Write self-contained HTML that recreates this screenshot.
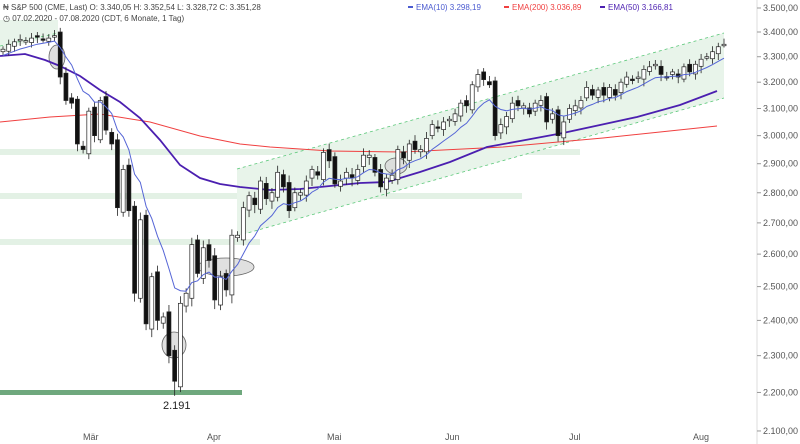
<!DOCTYPE html>
<html><head><meta charset="utf-8"><style>
body{margin:0;background:#fff;font-family:"Liberation Sans",sans-serif}
svg{display:block}
text{font-family:"Liberation Sans",sans-serif}
</style></head><body>
<svg id="s" width="800" height="444" viewBox="0 0 800 444">
<rect width="800" height="444" fill="#fff"/>
<rect x="0" y="149" width="580" height="6" fill="#e3f1e5"/>
<rect x="0" y="193" width="522" height="6" fill="#e3f1e5"/>
<rect x="0" y="239" width="260" height="6" fill="#e3f1e5"/>
<polygon points="0,20 58,20 58,35 0,50" fill="#e8f4ea"/>
<polygon points="237,169 724,33 724,98 237,236" fill="#e8f4ea"/>
<line x1="237" y1="169" x2="724" y2="33" stroke="#5cc87a" stroke-dasharray="3,3" stroke-width="0.8"/>
<line x1="237" y1="236" x2="724" y2="98" stroke="#5cc87a" stroke-dasharray="3,3" stroke-width="0.8"/>
<line x1="0" y1="46" x2="58" y2="33" stroke="#5cc87a" stroke-dasharray="3,3" stroke-width="0.8"/>
<rect x="0" y="390" width="242" height="5" fill="#6fa87d"/>
<g fill="#d8d8d8" fill-opacity="0.8" stroke="#666" stroke-width="0.8">
<ellipse cx="57" cy="57" rx="8" ry="12"/>
<ellipse cx="174" cy="345" rx="12" ry="13"/>
<ellipse cx="226" cy="267" rx="28" ry="9"/>
<ellipse cx="396" cy="166" rx="11" ry="8"/>
</g>
<polyline fill="none" stroke="#f04040" stroke-width="1" points="0,122 50,117 100,114 150,122 200,136 240,144 270,147 330,151 403,152 503,147 603,138 660,132 717,126"/>
<polyline fill="none" stroke="#4b1fb0" stroke-width="1.8" points="0,56 25,54 45,60 60,66 80,76 100,90 120,102 140,118 160,140 180,165 200,178 220,184 240,187 270,190 300,189 330,186 360,183 387,182 420,172 450,162 487,147 520,141 563,133 600,125 637,117 680,105 717,91"/>
<g id="c"></g>
<polyline id="e10" fill="none" stroke="#5565d6" stroke-width="1"/>
<line x1="757" y1="0" x2="757" y2="444" stroke="#ddd"/>
<g id="ax" font-size="9" fill="#555"></g>
<g font-size="9" fill="#555">
<text x="83" y="440">Mär</text><text x="207" y="440">Apr</text><text x="327" y="440">Mai</text>
<text x="445" y="440">Jun</text><text x="569" y="440">Jul</text><text x="693" y="440">Aug</text>
</g>
<text x="163" y="409" font-size="11" fill="#222">2.191</text>
<g font-size="8" fill="#444">
<text x="3" y="10">₦ S&amp;P 500 (CME, Last)  O: 3.340,05  H: 3.352,54  L: 3.328,72  C: 3.351,28</text>
<rect x="408" y="6" width="5" height="2" fill="#4b5bd0"/><text x="416" y="10" fill="#4b5bd0">EMA(10)  3.298,19</text>
<rect x="504" y="6" width="5" height="2" fill="#f04040"/><text x="512" y="10" fill="#f04040">EMA(200)  3.036,89</text>
<rect x="600" y="6" width="5" height="2" fill="#4b1fb0"/><text x="608" y="10" fill="#4b1fb0">EMA(50)  3.166,81</text>
<text x="3" y="21">◷ 07.02.2020 - 07.08.2020   (CDT, 6 Monate, 1 Tag)</text>
</g>
</svg>
<script>
function Y(p){return 8+828*Math.log(3500/p);}
var ax=document.getElementById('ax'),h='';
for(var p=2100;p<=3500;p+=100){var y=Y(p);var s=String(p);s=s[0]+'.'+s.slice(1)+',00';
h+='<line x1="757" x2="761" y1="'+y+'" y2="'+y+'" stroke="#999"/><text x="763" y="'+(y+3)+'">'+s+'</text>';}
ax.innerHTML=h;
var C=[3330,3350,3360,3370,3365,3375,3380,3370,3375,3385,3220,3130,3120,2970,2950,3090,3000,3130,3020,2970,2750,2880,2740,2480,2710,2390,2530,2400,2410,2300,2230,2450,2480,2630,2540,2620,2580,2460,2530,2490,2660,2660,2750,2790,2760,2840,2780,2800,2870,2820,2740,2800,2800,2840,2880,2860,2940,2910,2830,2840,2870,2850,2880,2930,2930,2870,2820,2850,2860,2950,2920,2970,2950,2950,2990,3040,3030,3050,3060,3080,3120,3110,3190,3230,3210,3190,3000,3040,3070,3120,3110,3110,3080,3120,3130,3050,3080,3000,3050,3100,3110,3130,3180,3150,3170,3150,3180,3150,3200,3220,3210,3220,3250,3260,3270,3230,3220,3240,3220,3260,3240,3270,3290,3300,3320,3340,3350];
var n=C.length,x0=3,x1=724,st=(x1-x0)/(n-1),g='',e=[],em=3300,k=2/11;
for(var i=0;i<n;i++){var c=C[i],o=i?C[i-1]+(i%3==0?10:-8):3320;
if(i>0&&Math.abs(c-C[i-1])>60){o=C[i-1]+(c>C[i-1]?-15:15);}
var hi=Math.max(o,c)+12+(i*7%13),lo=Math.min(o,c)-12-(i*5%17);
if(i==30)lo=2191;
var x=x0+i*st,up=c>=o,t=Y(Math.max(o,c)),b=Y(Math.min(o,c));if(b-t<1.5)b=t+1.5;
g+='<line x1="'+x+'" x2="'+x+'" y1="'+Y(hi)+'" y2="'+Y(lo)+'" stroke="#222" stroke-width="0.8"/>';
g+='<rect x="'+(x-2)+'" y="'+t+'" width="4" height="'+(b-t)+'" fill="'+(up?'#fff':'#111')+'" stroke="#222" stroke-width="0.7"/>';
em=c*k+em*(1-k);e.push(x.toFixed(1)+','+Y(em).toFixed(1));}
document.getElementById('c').innerHTML=g;
document.getElementById('e10').setAttribute('points',e.join(' '));
</script>
</body></html>
